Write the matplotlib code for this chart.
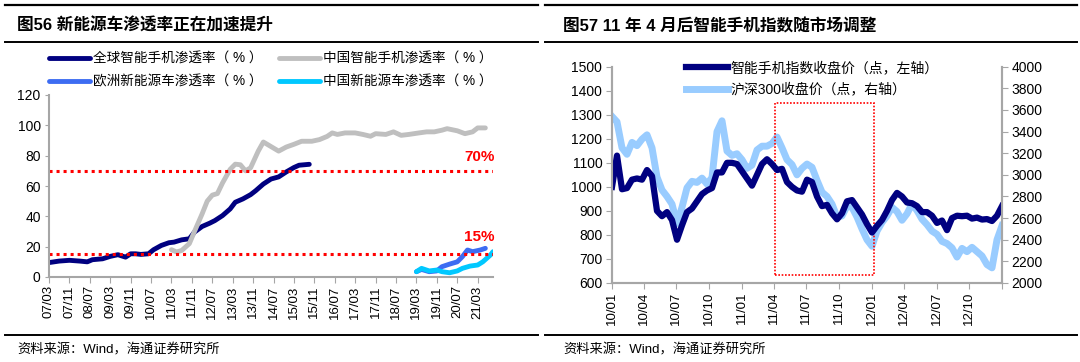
import numpy as np
import pandas as pd
import matplotlib
matplotlib.use('Agg')
import matplotlib.pyplot as plt
import matplotlib.dates as mdates
from matplotlib.lines import Line2D
from matplotlib.patches import Rectangle

plt.rcParams['font.family'] = ['Liberation Sans', 'Noto Sans CJK SC']

# ---- left chart: penetration rates (x = months since 2007/03)
x_labels_left = ['07/03', '07/11', '08/07', '09/03', '09/11', '10/07', '11/03', '11/11',
                 '12/07', '13/03', '13/11', '14/07', '15/03', '15/11', '16/07', '17/03',
                 '17/11', '18/07', '19/03', '19/11', '20/07', '21/03']

global_phone_m = [0, 4, 8, 12, 15, 17, 21, 24, 27, 30, 32, 34, 36, 39, 41, 44, 47, 49, 52,
                  55, 57, 60, 63, 65, 68, 71, 73, 76, 79, 81, 84, 87, 90, 93, 96, 98, 102]
global_phone = [9.5, 10.5, 11, 10.5, 10, 11.4, 12, 13.6, 14.7, 13.1, 15.3, 15.3, 14.9, 15.3,
                18, 20.8, 22.6, 23, 24.5, 25.2, 29.6, 33.3, 35.5, 37.2, 40.5, 44.9, 49.3,
                51.5, 54.3, 56.9, 61.3, 64.6, 66, 69.3, 72.2, 73.7, 74.3]

china_phone_m = [48, 50, 52, 55, 57, 60, 62, 64, 66, 68, 71, 73, 75, 77, 79, 82, 84, 87, 90,
                 93, 96, 99, 103, 106, 109, 111, 113, 116, 120, 123, 126, 128, 132, 135, 138,
                 141, 145, 148, 151, 154, 156, 160, 163, 166, 168, 171]
china_phone = [18, 16.5, 17.5, 22, 30, 41.6, 50, 54, 55, 62, 71, 74.4, 74, 70, 72, 83, 89, 86,
               83, 85.7, 87.5, 89.5, 89.5, 90.6, 92.7, 95, 94, 95, 95, 94, 92.8, 94.5, 94,
               95.7, 93.4, 94, 95, 95.7, 95.7, 96.8, 97.8, 96.4, 94.5, 95.7, 98.3, 98.3]

eu_nev_m = [144, 146, 149, 152, 154, 157, 160, 162, 164, 166, 169, 171]
eu_nev = [3.5, 5, 3.5, 4, 6.8, 8.5, 10, 13.4, 17.8, 16.7, 17.8, 18.9]

china_nev_m = [144, 146, 149, 152, 154, 157, 160, 162, 165, 168, 170, 173, 174]
china_nev = [3.5, 5.7, 4, 4.6, 3.5, 2.8, 4, 5.7, 7.2, 7.9, 10, 14.5, 16.7]

# ---- right chart: smartphone index vs CSI 300 (semi-monthly readings 2010/01 - 2013/01)
phone_index = [1000, 1130, 990, 995, 1030, 1035, 1030, 1070, 1045, 900, 878, 895, 862, 780,
               840, 895, 910, 940, 970, 985, 995, 1060, 1060, 1100, 1100, 1095, 1065, 1035,
               1005, 1050, 1095, 1115, 1095, 1070, 1075, 1020, 1000, 985, 980, 1030, 1020,
               960, 920, 925, 890, 865, 890, 940, 945, 915, 885, 845, 810, 838, 862, 900,
               945, 975, 960, 935, 932, 920, 895, 895, 880, 850, 860, 820, 870, 880, 878,
               880, 868, 872, 864, 866, 858, 880, 920]
hs300 = [3540, 3490, 3250, 3190, 3300, 3270, 3330, 3370, 3250, 2980, 2860, 2800, 2730, 2550,
         2700, 2880, 2940, 2930, 2970, 2915, 2975, 3400, 3500, 3220, 3180, 3195, 3140, 3060,
         3090, 3230, 3265, 3265, 3290, 3350, 3250, 3140, 3095, 3000, 3060, 3100, 3070, 2950,
         2840, 2800, 2730, 2610, 2620, 2710, 2700, 2610, 2500, 2400, 2340, 2480, 2560, 2620,
         2700, 2660, 2580, 2640, 2730, 2670, 2590, 2540, 2480, 2450, 2385, 2365, 2325, 2240,
         2320, 2290, 2330, 2290, 2250, 2170, 2140, 2400, 2530]
dates = pd.date_range('2010-01-01', '2013-01-01', periods=len(phone_index))

W, H = 1080, 362
fig = plt.figure(figsize=(W / 100, H / 100), dpi=100)

def fx(px):
    return px / W

def fy(py):
    return 1 - py / H

# header / footer rules and titles
for x0, x1 in [(5, 538), (545, 1077)]:
    for yy, lw in [(5, 1.6), (42, 1.4), (335, 1.4)]:
        fig.add_artist(Line2D([fx(x0), fx(x1)], [fy(yy), fy(yy)], color='black', lw=lw))

fig.text(fx(17), fy(26), '图56 新能源车渗透率正在加速提升', fontsize=12, fontweight='bold', va='center')
fig.text(fx(563), fy(26), '图57 11 年 4 月后智能手机指数随市场调整', fontsize=12, fontweight='bold', va='center')
fig.text(fx(17), fy(350), '资料来源：Wind，海通证券研究所', fontsize=9.5, va='center')
fig.text(fx(563), fy(350), '资料来源：Wind，海通证券研究所', fontsize=9.5, va='center')

spine_col = '#a6a6a6'

# ---------------- left chart
ax1 = fig.add_axes([fx(49), fy(277), fx(444), 182 / H])
l1, = ax1.plot(global_phone_m, global_phone, color='#000080', lw=3.5, solid_capstyle='round')
l2, = ax1.plot(china_phone_m, china_phone, color='#bfbfbf', lw=3.5, solid_capstyle='round')
l3, = ax1.plot(eu_nev_m, eu_nev, color='#3d6cf2', lw=3.5, solid_capstyle='round')
l4, = ax1.plot(china_nev_m, china_nev, color='#00c8ff', lw=3.5, solid_capstyle='round')
ax1.axhline(70, color='red', lw=2.2, ls=(0, (1, 1.3)))
ax1.axhline(15, color='red', lw=2.2, ls=(0, (1, 1.3)))
ax1.text(168.8, 79, '70%', color='red', fontweight='bold', fontsize=11, ha='center', va='center')
ax1.text(168.8, 26.3, '15%', color='red', fontweight='bold', fontsize=11, ha='center', va='center')
ax1.set_xlim(0, 174)
ax1.set_ylim(0, 120)
ax1.set_yticks(range(0, 121, 20))
ax1.set_xticks(range(0, 169, 8))
ax1.set_xticklabels(x_labels_left, rotation=90)
ax1.tick_params(axis='x', labelsize=9.5, length=4, color=spine_col, pad=2)
ax1.tick_params(axis='y', labelsize=10, length=3, color=spine_col, pad=3)
for s in ['top', 'right']:
    ax1.spines[s].set_visible(False)
for s in ['left', 'bottom']:
    ax1.spines[s].set_color(spine_col)
    ax1.spines[s].set_linewidth(1.5)

fig.legend([l1, l3, l2, l4],
           ['全球智能手机渗透率（ % ）', '欧洲新能源车渗透率（ % ）',
            '中国智能手机渗透率（ % ）', '中国新能源车渗透率（ % ）'],
           ncol=2, loc='upper left', bbox_to_anchor=(fx(49), fy(52)), frameon=False,
           fontsize=9.8, handlelength=3.0, handletextpad=0.25, columnspacing=1.2,
           labelspacing=0.62, borderpad=0, borderaxespad=0)

# ---------------- right chart
ax2 = fig.add_axes([fx(612), fy(283), fx(390), 216.3 / H])
ax3 = ax2.twinx()
r2, = ax3.plot(dates, hs300, color='#99ccff', lw=5)
r1, = ax2.plot(dates, phone_index, color='#000080', lw=4.5)
ax2.set_zorder(ax3.get_zorder() + 1)
ax2.patch.set_visible(False)

box_start = mdates.date2num(pd.Timestamp('2011-04-04'))
box_end = mdates.date2num(pd.Timestamp('2012-01-06'))
ax2.add_patch(Rectangle((box_start, 633), box_end - box_start, 1350 - 633, fill=False,
                        edgecolor='red', lw=1.2, ls=(0, (1, 1))))

ax2.set_ylim(600, 1500)
ax3.set_ylim(2000, 4000)
ax2.set_yticks(range(600, 1501, 100))
ax3.set_yticks(range(2000, 4001, 200))
ax2.set_xlim(dates[0], dates[-1])
xt = pd.date_range('2010-01-01', '2013-01-01', freq='3MS')
ax2.set_xticks(xt)
ax2.set_xticklabels([d.strftime('%y/%m') for d in xt[:-1]] + [''], rotation=90)
ax2.tick_params(axis='x', labelsize=9.5, length=4, color=spine_col, pad=2)
ax2.tick_params(axis='y', labelsize=10, length=4, color=spine_col, pad=3)
ax3.tick_params(axis='y', labelsize=10, length=4, color=spine_col, pad=3)
for a in (ax2, ax3):
    a.spines['top'].set_visible(False)
    for s in ['left', 'right', 'bottom']:
        a.spines[s].set_color(spine_col)
        a.spines[s].set_linewidth(1.5)

fig.legend([r1, r2], ['智能手机指数收盘价（点，左轴）', '沪深300收盘价（点，右轴）'],
           loc='upper left', bbox_to_anchor=(fx(686), fy(61)), frameon=False,
           fontsize=10, handlelength=3.0, handletextpad=0.2, labelspacing=0.55,
           borderpad=0, borderaxespad=0)

plt.savefig('out.png', dpi=100)
